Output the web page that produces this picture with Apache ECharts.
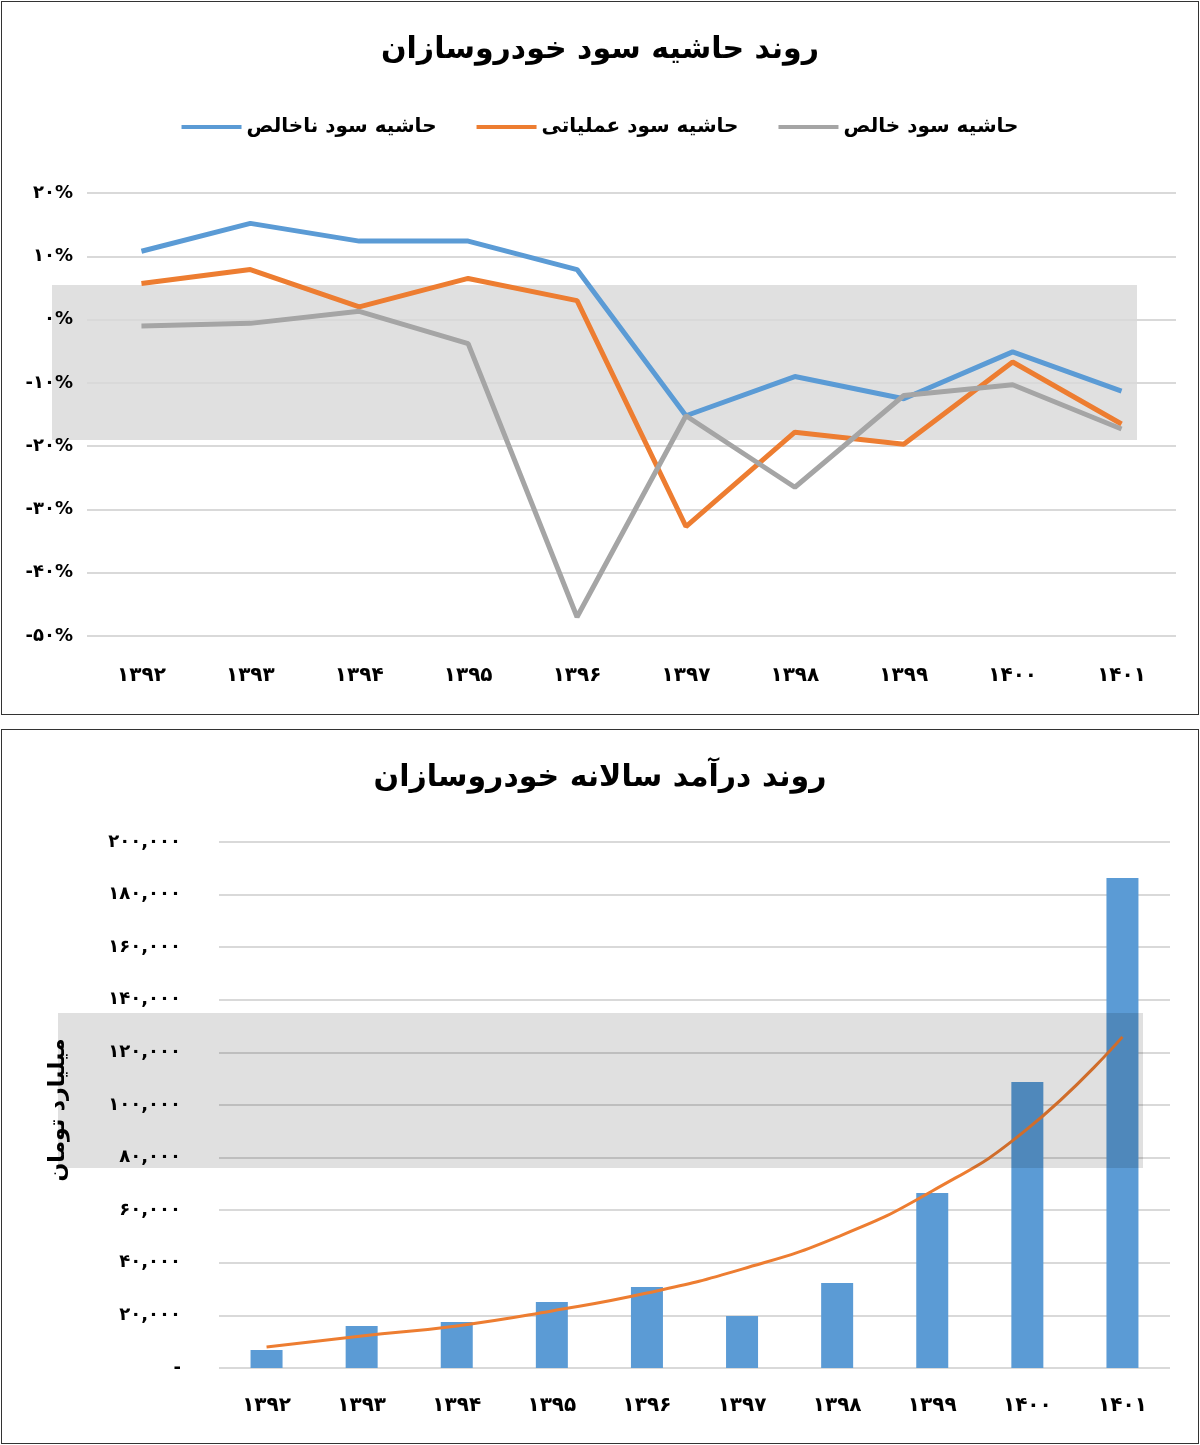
<!DOCTYPE html>
<html><head><meta charset="utf-8">
<script src="https://cdn.jsdelivr.net/npm/echarts@6/dist/echarts.min.js"></script>
<style>
body{margin:0;background:#fff;}
.box{position:absolute;left:1px;width:1196px;border:1px solid #333;background:#fff;}
#c1{top:1px;height:712px;}
#c2{top:729px;height:713px;}
</style></head><body>
<div id="c1" class="box"></div>
<div id="c2" class="box"></div>
<script>
var years = ['1392','1393','1394','1395','1396','1397','1398','1399','1400','1401'];
var grossMargin = [10.8, 15.2, 12.4, 12.4, 7.9, -15.2, -9.0, -12.5, -5.1, -11.3];
var operMargin = [5.7, 7.9, 2.0, 6.5, 3.0, -32.7, -17.8, -19.7, -6.7, -16.5];
var netMargin = [-1.0, -0.6, 1.3, -3.8, -47.0, -15.2, -26.5, -12.0, -10.3, -17.3];
var revenue = [6800, 16000, 17500, 25100, 30800, 19800, 32300, 66500, 108700, 186300];
var revenueTrend = [8000, 12200, 16000, 21700, 28500, 37600, 49800, 67300, 90900, 125900];

var FONT = 'DejaVu Sans';
function fa(s){
    return String(s).replace(/[0-9]/g, function(d){ return '۰۱۲۳۴۵۶۷۸۹'[+d]; });
}
function faNum(v){
    return fa(String(v).replace(/\B(?=(\d{3})+(?!\d))/g, ','));
}

var chart1 = echarts.init(document.getElementById('c1'));
chart1.setOption({
    animation: false,
    textStyle: {fontFamily: FONT},
    title: {text: 'روند حاشیه سود خودروسازان', left: 'center', top: 28,
        textStyle: {fontSize: 30, fontWeight: 'bold', color: '#000', fontFamily: FONT}},
    legend: {top: 110, left: 'center', itemGap: 40, itemWidth: 60, itemHeight: 4,
        icon: 'rect', textStyle: {fontSize: 20, fontWeight: 'bold', color: '#000'},
        data: ['حاشیه سود ناخالص', 'حاشیه سود عملیاتی', 'حاشیه سود خالص']},
    graphic: [{type: 'rect', left: 50, top: 283, shape: {width: 1085, height: 155},
        style: {fill: 'rgba(0,0,0,0.12)'}, z: -1}],
    grid: {left: 85, right: 22, top: 191, bottom: 78},
    xAxis: {type: 'category', data: years, boundaryGap: true,
        axisLine: {show: false}, axisTick: {show: false},
        axisLabel: {margin: 30, fontSize: 20, fontWeight: 'bold', color: '#000', formatter: fa}},
    yAxis: {type: 'value', min: -50, max: 20, interval: 10,
        splitLine: {lineStyle: {color: '#d9d9d9', width: 2}},
        axisLabel: {fontSize: 18, fontWeight: 'bold', color: '#000', margin: 14,
            formatter: function(v){ return (v < 0 ? '-' : '') + fa(Math.abs(v)) + '%'; }}},
    series: [
        {name: 'حاشیه سود ناخالص', type: 'line', data: grossMargin, showSymbol: false,
            lineStyle: {width: 5, color: '#5b9bd5'}, itemStyle: {color: '#5b9bd5'}},
        {name: 'حاشیه سود عملیاتی', type: 'line', data: operMargin, showSymbol: false,
            lineStyle: {width: 5, color: '#ed7d31'}, itemStyle: {color: '#ed7d31'}},
        {name: 'حاشیه سود خالص', type: 'line', data: netMargin, showSymbol: false,
            lineStyle: {width: 5, color: '#a5a5a5'}, itemStyle: {color: '#a5a5a5'}}
    ]
});

var chart2 = echarts.init(document.getElementById('c2'));
chart2.setOption({
    animation: false,
    textStyle: {fontFamily: FONT},
    title: {text: 'روند درآمد سالانه خودروسازان', left: 'center', top: 28,
        textStyle: {fontSize: 30, fontWeight: 'bold', color: '#000', fontFamily: FONT}},
    graphic: [
        {type: 'rect', left: 56, top: 283, shape: {width: 1085, height: 155},
            style: {fill: 'rgba(0,0,0,0.12)'}, z: 10, silent: true},
        {type: 'text', x: 56, y: 380, rotation: Math.PI / 2, z: 20,
            style: {text: 'میلیارد تومان', fontSize: 22, fontWeight: 'bold', fill: '#000',
                fontFamily: FONT, align: 'center', verticalAlign: 'middle'}}
    ],
    grid: {left: 217, right: 28, top: 112, bottom: 75},
    xAxis: {type: 'category', data: years,
        axisLine: {show: false}, axisTick: {show: false},
        axisLabel: {margin: 28, fontSize: 20, fontWeight: 'bold', color: '#000', formatter: fa}},
    yAxis: {type: 'value', min: 0, max: 200000, interval: 20000,
        splitLine: {lineStyle: {color: '#d9d9d9', width: 2}},
        axisLabel: {fontSize: 18, fontWeight: 'bold', color: '#000', margin: 38,
            formatter: function(v){ return v === 0 ? '-' : faNum(v); }}},
    series: [
        {type: 'bar', data: revenue, barWidth: 32, itemStyle: {color: '#5b9bd5'}},
        {type: 'line', data: revenueTrend, smooth: true, showSymbol: false,
            lineStyle: {width: 3, color: '#ed7d31'}}
    ]
});
</script>
</body></html>
